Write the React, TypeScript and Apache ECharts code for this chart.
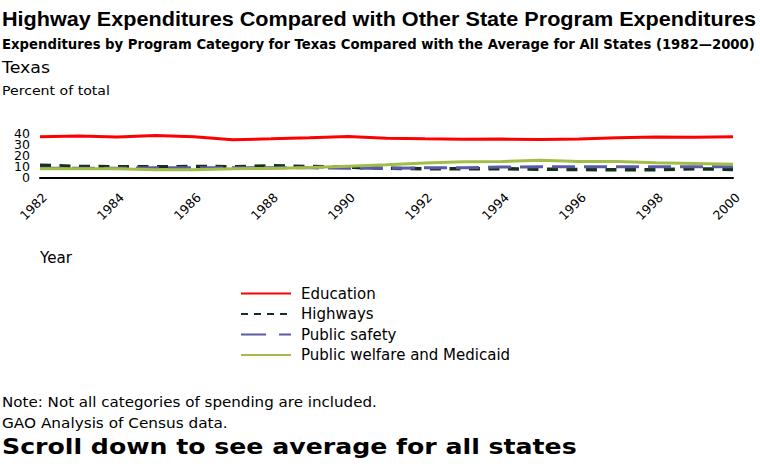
import React, { useEffect, useRef } from "react";
import * as echarts from "echarts";

const years = ["1982","1983","1984","1985","1986","1987","1988","1989","1990","1991","1992","1993","1994","1995","1996","1997","1998","1999","2000"];
const education = [36.6,37.2,36.5,37.8,36.6,34.0,34.8,35.7,36.9,35.3,34.8,34.4,34.5,34.2,34.6,35.7,36.3,36.1,36.6];
const highways = [11.0,10.0,9.7,9.6,9.9,9.7,10.5,9.9,9.2,8.3,7.9,7.8,7.8,7.5,7.2,6.9,6.9,7.9,7.2];
const publicSafety = [8.4,8.4,8.4,8.7,8.7,8.7,8.7,8.7,8.3,8.3,8.7,8.7,9.4,9.6,9.6,9.6,9.6,9.6,9.6];
const welfare = [7.9,7.9,7.9,7.0,7.0,7.8,8.2,8.9,10.2,11.4,13.1,14.1,14.4,15.4,14.4,14.4,13.3,12.6,11.9];
const yTicks = { min: 0, max: 40, interval: 10 };
const oddTicks = [10, 30];

const SANS = "'DejaVu Sans', Verdana, sans-serif";
const ARIAL = "'Liberation Sans', Arial, Helvetica, sans-serif";

function measure(text: string, font: string): number {
  const c = document.createElement("canvas");
  const ctx = c.getContext("2d")!;
  ctx.font = font;
  return ctx.measureText(text).width;
}

export default function App() {
  const ref = useRef<HTMLDivElement>(null);
  useEffect(() => {
    const chart = echarts.init(ref.current!, null, { renderer: "svg" });
    const txt = (text: string, x: number, y: number, size: number, family: string, bold: boolean, width: number) => {
      const font = `${bold ? "bold " : ""}${size}px ${family}`;
      const w = measure(text, font);
      return {
        type: "text",
        x, y, scaleX: w > 0 ? width / w : 1,
        style: { text, font, fill: "#000", align: "left", verticalAlign: "middle" },
      };
    };
    const yLabel = { fontFamily: SANS, fontSize: 12.5, lineHeight: 10, color: "#000", margin: 10, showMinLabel: true, showMaxLabel: true, hideOverlap: false };
    chart.setOption({
      animation: false,
      backgroundColor: "#fff",
      graphic: [
        txt("Highway Expenditures Compared with Other State Program Expenditures", 2, 19.5, 21, ARIAL, true, 755),
        txt("Expenditures by Program Category for Texas Compared with the Average for All States (1982\u20142000)", 2, 44.5, 13.5, SANS, true, 753),
        txt("Texas", 2, 67.5, 15, SANS, false, 48),
        txt("Percent of total", 2, 90.5, 13, SANS, false, 108),
        txt("Year", 40, 258.5, 15, SANS, false, 32),
        txt("Note: Not all categories of spending are included.", 2, 402.5, 13.5, SANS, false, 375),
        txt("GAO Analysis of Census data.", 2, 423, 13.5, SANS, false, 226),
        txt("Scroll down to see average for all states", 2, 446, 21, SANS, true, 575),
      ],
      grid: { left: 40, right: 27, top: 133, bottom: 297.5, containLabel: false },
      legend: {
        orient: "vertical",
        left: 240,
        top: 286,
        padding: 0,
        itemWidth: 50,
        itemHeight: 14,
        itemGap: 5.5,
        itemStyle: { color: "rgba(0,0,0,0)", borderWidth: 0, opacity: 0 },
        textStyle: { fontFamily: SANS, fontSize: 15, lineHeight: 14, color: "#000", padding: [0, 0, 0, 5] },
        data: [
          { name: "Education" },
          { name: "Highways", lineStyle: { type: [7, 6] } },
          { name: "Public safety", lineStyle: { type: [25, 13] } },
          { name: "Public welfare and Medicaid" },
        ],
      },
      xAxis: {
        type: "category",
        data: years,
        boundaryGap: false,
        offset: 7,
        axisLine: { lineStyle: { color: "#000", width: 2 } },
        axisTick: { show: false },
        axisLabel: { interval: 1, rotate: 45, fontFamily: SANS, fontSize: 12.5, color: "#000", margin: 6, verticalAlign: "top" },
      },
      yAxis: [
        {
          type: "value",
          position: "left",
          min: yTicks.min,
          max: yTicks.max,
          interval: yTicks.interval * 2,
          splitLine: { show: false },
          axisLine: { show: false },
          axisTick: { show: false },
          axisLabel: yLabel,
        },
        {
          type: "value",
          position: "left",
          offset: 0,
          min: yTicks.min,
          max: yTicks.max,
          interval: yTicks.interval,
          splitLine: { show: false },
          axisLine: { show: false },
          axisTick: { show: false },
          axisLabel: { ...yLabel, formatter: (v: number) => (oddTicks.includes(v) ? String(v) : "") },
        },
      ],
      series: [
        { name: "Education", type: "line", data: education, symbol: "none", lineStyle: { color: "#ff0000", width: 3 }, itemStyle: { color: "#ff0000" } },
        { name: "Highways", type: "line", data: highways, symbol: "none", lineStyle: { color: "#14301f", width: 3.5, type: [11, 8.5] }, itemStyle: { color: "#14301f" } },
        { name: "Public safety", type: "line", data: publicSafety, symbol: "none", lineStyle: { color: "#5a5aa8", width: 3, type: [23, 9] }, itemStyle: { color: "#5a5aa8" } },
        { name: "Public welfare and Medicaid", type: "line", data: welfare, symbol: "none", lineStyle: { color: "#a2bd47", width: 3 }, itemStyle: { color: "#a2bd47" } },
      ],
    });
    return () => chart.dispose();
  }, []);
  return <div ref={ref} style={{ position: "fixed", left: 0, top: 0, width: 760, height: 475 }} />;
}
